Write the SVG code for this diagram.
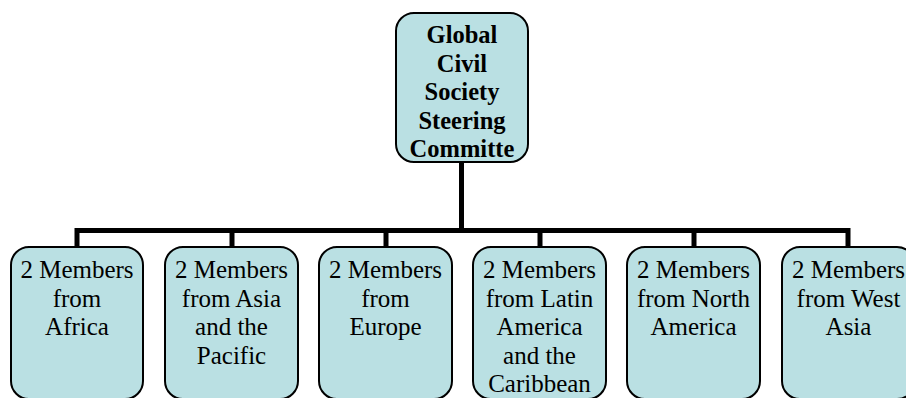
<svg xmlns="http://www.w3.org/2000/svg" width="906" height="398" viewBox="0 0 906 398">
<style>
.box{fill:#BAE0E3;stroke:#000;stroke-width:2}
.t{font-family:"Liberation Serif","Times New Roman",serif;font-size:25px;fill:#000;text-anchor:middle}
.b{font-weight:bold;font-size:24.5px}
.c{stroke:#000;stroke-width:5;fill:none}
</style>
<rect width="906" height="398" fill="#fff"/>
<g id="connectors">
<path class="c" d="M461.5 162 V230.5"/>
<path class="c" d="M77 247 V230.5 H848 V247"/>
<path class="c" d="M232 230.5 V247 M386 230.5 V247 M540 230.5 V247 M694 230.5 V247"/>
</g>
<g id="root">
<rect class="box" x="396" y="13" width="132" height="149" rx="18"/>
<text class="t b"><tspan x="462" y="43">Global</tspan><tspan x="462" y="71.5">Civil</tspan><tspan x="462" y="100">Society</tspan><tspan x="462" y="128.5">Steering</tspan><tspan x="462" y="157">Committe</tspan></text>
</g>
<g id="africa">
<rect class="box" x="11" y="247" width="132" height="152" rx="18"/>
<text class="t"><tspan x="77" y="278">2 Members</tspan><tspan x="77" y="306.5">from</tspan><tspan x="77" y="335">Africa</tspan></text>
</g>
<g id="asia-pacific">
<rect class="box" x="165" y="247" width="133" height="152" rx="18"/>
<text class="t"><tspan x="231.5" y="278">2 Members</tspan><tspan x="231.5" y="306.5">from Asia</tspan><tspan x="231.5" y="335">and the</tspan><tspan x="231.5" y="363.5">Pacific</tspan></text>
</g>
<g id="europe">
<rect class="box" x="319" y="247" width="133" height="152" rx="18"/>
<text class="t"><tspan x="385.5" y="278">2 Members</tspan><tspan x="385.5" y="306.5">from</tspan><tspan x="385.5" y="335">Europe</tspan></text>
</g>
<g id="latin-america">
<rect class="box" x="473" y="247" width="133" height="152" rx="18"/>
<text class="t"><tspan x="539.5" y="278">2 Members</tspan><tspan x="539.5" y="306.5">from Latin</tspan><tspan x="539.5" y="335">America</tspan><tspan x="539.5" y="363.5">and the</tspan><tspan x="539.5" y="392">Caribbean</tspan></text>
</g>
<g id="north-america">
<rect class="box" x="627" y="247" width="133" height="152" rx="18"/>
<text class="t"><tspan x="693.5" y="278">2 Members</tspan><tspan x="693.5" y="306.5">from North</tspan><tspan x="693.5" y="335">America</tspan></text>
</g>
<g id="west-asia">
<rect class="box" x="782" y="247" width="133" height="152" rx="18"/>
<text class="t"><tspan x="848.5" y="278">2 Members</tspan><tspan x="848.5" y="306.5">from West</tspan><tspan x="848.5" y="335">Asia</tspan></text>
</g>
</svg>
